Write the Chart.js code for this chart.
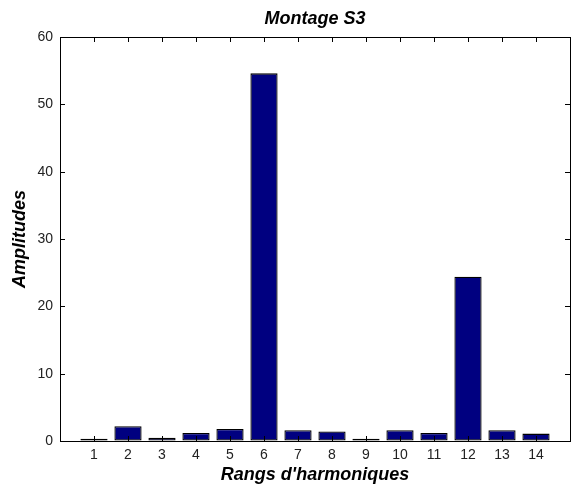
<!DOCTYPE html>
<html>
<head>
<meta charset="utf-8">
<script src="https://cdn.jsdelivr.net/npm/chart.js@4/dist/chart.umd.min.js"></script>
<style>
  html, body { margin: 0; padding: 0; background: #ffffff; }
  #wrap { width: 574px; height: 486px; }
</style>
</head>
<body>
<div id="wrap"><canvas id="c" width="574" height="486"></canvas></div>
<script>
// Harmonic ranks and their amplitudes
const harmonics = [1, 2, 3, 4, 5, 6, 7, 8, 9, 10, 11, 12, 13, 14];
const amplitudes = [0.35, 2.2, 0.5, 1.2, 1.8, 54.6, 1.6, 1.4, 0.35, 1.6, 1.2, 24.4, 1.6, 1.1];
const yTicks = [0, 10, 20, 30, 40, 50, 60];

const FONT = "Arial, 'Liberation Sans', sans-serif";

// Box around the axes with inward tick marks on all four sides
const boxTicks = {
  id: 'boxTicks',
  afterDatasetsDraw(chart) {
    const { ctx, chartArea: a, scales: { x, y } } = chart;
    const len = 5;
    ctx.save();
    ctx.strokeStyle = '#000000';
    ctx.lineWidth = 1;
    ctx.beginPath();
    harmonics.forEach(h => {
      const px = Math.round(x.getPixelForValue(h)) + 0.5;
      ctx.moveTo(px, a.bottom); ctx.lineTo(px, a.bottom - len);
      ctx.moveTo(px, a.top); ctx.lineTo(px, a.top + len);
    });
    yTicks.forEach(v => {
      const py = Math.round(y.getPixelForValue(v)) + 0.5;
      ctx.moveTo(a.left, py); ctx.lineTo(a.left + len, py);
      ctx.moveTo(a.right, py); ctx.lineTo(a.right - len, py);
    });
    ctx.stroke();
    ctx.strokeRect(Math.round(a.left) + 0.5, Math.round(a.top) + 0.5,
                   Math.round(a.right - a.left), Math.round(a.bottom - a.top));
    ctx.restore();
  }
};

new Chart(document.getElementById('c'), {
  type: 'bar',
  data: {
    datasets: [{
      data: harmonics.map((h, i) => ({ x: h, y: amplitudes[i] })),
      backgroundColor: '#000080',
      borderColor: '#000000',
      borderWidth: 1.3,
      borderSkipped: false,
      barPercentage: 0.8,
      categoryPercentage: 1.0
    }]
  },
  options: {
    responsive: false,
    animation: false,
    layout: { padding: { left: 0, right: 4, top: 0, bottom: 0 } },
    plugins: {
      legend: { display: false },
      tooltip: { enabled: false },
      title: {
        display: true,
        text: 'Montage S3',
        fullSize: false,
        color: '#000000',
        font: { family: FONT, size: 18, weight: 'bold', style: 'italic' },
        padding: { top: 8, bottom: 7.4 }
      }
    },
    scales: {
      x: {
        type: 'linear',
        offset: false,
        min: 0,
        max: 15,
        afterFit(s) { s.height = 45; },
        afterBuildTicks(s) { s.ticks = harmonics.map(v => ({ value: v })); },
        grid: { drawOnChartArea: false, drawTicks: false, offset: false },
        border: { display: true, color: '#000000', width: 1 },
        ticks: {
          color: '#222222',
          padding: 6,
          maxRotation: 0,
          autoSkip: false,
          font: { family: FONT, size: 14 }
        },
        title: {
          display: true,
          text: "Rangs d'harmoniques",
          color: '#000000',
          font: { family: FONT, size: 18, weight: 'bold', style: 'italic' },
          padding: { top: 0, bottom: 0 }
        }
      },
      y: {
        min: 0,
        max: 60,
        afterFit(s) { s.width = 60; },
        afterBuildTicks(s) { s.ticks = yTicks.map(v => ({ value: v })); },
        grid: { drawOnChartArea: false, drawTicks: false },
        border: { display: true, color: '#000000', width: 1 },
        ticks: {
          color: '#222222',
          padding: 7,
          font: { family: FONT, size: 14 }
        },
        title: {
          display: true,
          text: 'Amplitudes',
          color: '#000000',
          font: { family: FONT, size: 18, weight: 'bold', style: 'italic' },
          padding: { top: 9, bottom: 0 }
        }
      }
    }
  },
  plugins: [boxTicks]
});
</script>
</body>
</html>
